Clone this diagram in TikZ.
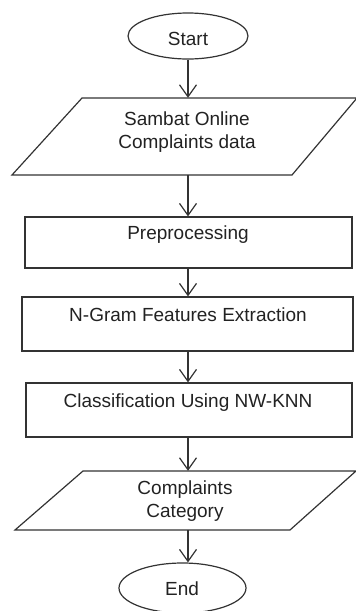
\documentclass[tikz,border=0pt]{standalone}
\usepackage{fontspec}
\setmainfont{Liberation Sans}
\usetikzlibrary{shapes.geometric,arrows.meta}
\definecolor{ln}{HTML}{333333}
\definecolor{tx}{HTML}{222222}
\begin{document}
\begin{tikzpicture}[x=1pt,y=-1pt,
  every node/.style={font=\fontsize{19}{23}\selectfont, text=tx},
  term/.style={draw=ln, line width=1.2pt, ellipse, inner sep=0pt},
  boxnode/.style={draw=ln, line width=1.2pt, rectangle, inner sep=0pt},
  anchorbox/.style={rectangle, inner sep=0pt, minimum width=200pt},
  lbl/.style={anchor=base, inner sep=0pt, align=center},
  shapeline/.style={draw=ln, line width=1.2pt, line join=miter},
  arr/.style={draw=ln, line width=1.2pt, -{Straight Barb[length=12pt,width=17pt]}}]
\useasboundingbox (0,0) rectangle (356,611);

% Start
\node[term, minimum width=120pt, minimum height=46pt] (start) at (188,36) {};
\node[lbl] (startt) at (188,45) {Start};

% Data input
\node[anchorbox, minimum height=77pt] (p1) at (188,136.5) {};
\draw[shapeline] (82,98) -- (357,98) -- (292,175) -- (12,175) -- cycle;
\node[lbl] (p1t) at (187,148) {Sambat Online\\Complaints data};

% Preprocessing
\node[boxnode, minimum width=327pt, minimum height=51pt] (b1) at (188.5,242.5) {};
\node[lbl] (b1t) at (188,239) {Preprocessing};

% N-Gram
\node[boxnode, minimum width=331pt, minimum height=54pt] (b2) at (187.5,324) {};
\node[lbl] (b2t) at (188,321) {N-Gram Features Extraction};

% Classification
\node[boxnode, minimum width=326pt, minimum height=54pt] (b3) at (189,410) {};
\node[lbl] (b3t) at (188,407) {Classification Using NW-KNN};

% Output
\node[anchorbox, minimum height=59pt] (p2) at (188,500.5) {};
\draw[shapeline] (83,471) -- (356,471) -- (290,530) -- (15,530) -- cycle;
\node[lbl] (p2t) at (185,517) {Complaints\\Category};

% End
\node[term, minimum width=127pt, minimum height=50pt] (end) at (182.5,588) {};
\node[lbl] (endt) at (182,595) {End};

% Connectors
\draw[arr] (start.south) -- (p1.north);
\draw[arr] (p1.south) -- (p1.south |- b1.north);
\draw[arr] (b1.south -| p1.south) -- (p1.south |- b2.north);
\draw[arr] (b2.south -| p1.south) -- (p1.south |- b3.north);
\draw[arr] (b3.south -| p1.south) -- (p2.north);
\draw[arr] (p2.south) -- (p2.south |- end.north);
\end{tikzpicture}
\end{document}
